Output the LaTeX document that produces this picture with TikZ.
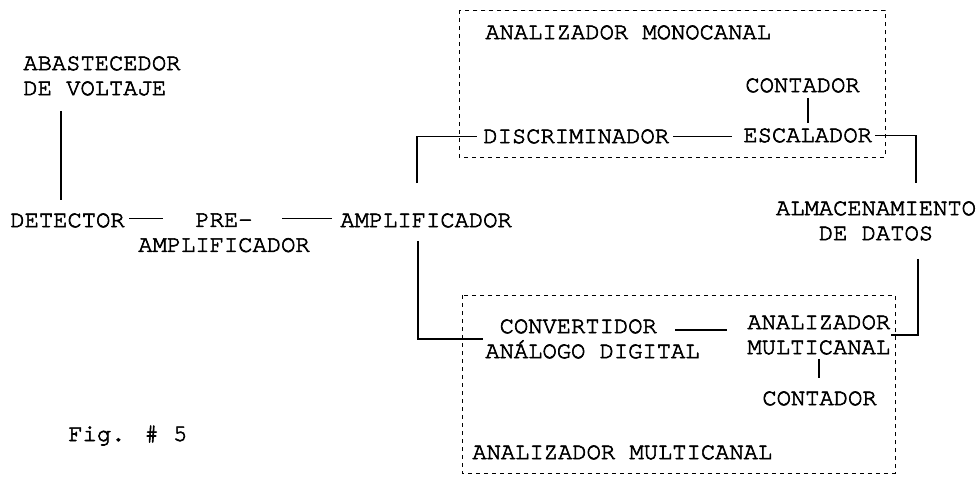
\documentclass[tikz,border=0pt]{standalone}
\usepackage{fontspec}
\usepackage{tikz}
\usetikzlibrary{calc, positioning}
\newfontfamily\typew{TeX Gyre Cursor}[FakeBold=2.6]

\begin{document}
\begin{tikzpicture}[x=0.5pt, y=-0.5pt,
    lbl/.style={inner sep=0pt, font=\typew\fontsize{11.9}{12.5}\selectfont},
    link/.style={line width=0.9pt},
    grp/.style={line width=0.45pt, dash pattern=on 2pt off 2pt}]
  \useasboundingbox (0,0) rectangle (978,483);
  \draw[grp] (459,10) rectangle (885,157);
  \draw[grp] (462,295) rectangle (895,473);
  \node[lbl, anchor=north west, align=left] (aba) at (23,56) {ABASTECEDOR\\DE VOLTAJE};
  \node[lbl, anchor=north west] (det) at (10,213) {DETECTOR};
  \node[lbl, anchor=north, align=center] (pre) at (224,213) {PRE-\\AMPLIFICADOR};
  \node[lbl, anchor=north west] (amp) at (340,213) {AMPLIFICADOR};
  \node[lbl, anchor=north west] (mono) at (485,25) {ANALIZADOR MONOCANAL};
  \node[lbl, anchor=north west] (cnt1) at (745,78) {CONTADOR};
  \node[lbl, anchor=north west] (disc) at (483,129) {DISCRIMINADOR};
  \node[lbl, anchor=north west] (esc) at (743,128) {ESCALADOR};
  \node[lbl, anchor=north, align=center] (alm) at (876,201) {ALMACENAMIENTO\\DE DATOS};
  \node[lbl, anchor=north west, align=left] (conv) at (485,319) {\hphantom{A}CONVERTIDOR\\ANÁLOGO DIGITAL};
  \node[lbl, anchor=north west, align=left] (amc) at (747,315) {ANALIZADOR\\MULTICANAL};
  \node[lbl, anchor=north west] (cnt2) at (762,391) {CONTADOR};
  \node[lbl, anchor=north west] (multi) at (472,445) {ANALIZADOR MULTICANAL};
  \node[lbl, anchor=base west] (fig) at (68,441) {Fig. \# 5};
  \coordinate (cd) at ($(conv.north west)+(190,11)$);
  \draw[link] ($(aba.south west)+(38,15)$) -- ($(det.north west)+(51,-13)$);
  \draw[link, shorten <=2pt, shorten >=30.5pt] ($(det.east)+(0,-2)$) -- ($(det.east -| pre.north)+(0,-2)$);
  \draw[link, shorten <=29pt, shorten >=4pt] ($(amp.west -| pre.north)+(0,-2)$) -- ($(amp.west)+(0,-2)$);
  \draw[link] ($(amp.north west)+(77,-30)$) |- ($(disc.west)+(-6,0)$);
  \draw[link, shorten >=1pt] ($(amp.south west)+(78,13)$) |- (conv.west);
  \draw[link, shorten <=2pt, shorten >=5.5pt] (disc.east) -- (disc.east -| esc.west);
  \draw[link, shorten <=2.5pt, shorten >=2.5pt] (esc.north) -- (esc.north |- cnt1.south);
  \draw[link] ($(esc.east)+(3,0)$) -| ($(alm.north)+(40,-18)$);
  \draw[link] ($(alm.south)+(42,18)$) |- (amc.east);
  \draw[link, shorten >=10pt] (cd) -- (cd -| amc.west);
  \draw[link, shorten <=2pt, shorten >=6.5pt] (amc.south) -- (amc.south |- cnt2.north);
\end{tikzpicture}
\end{document}
